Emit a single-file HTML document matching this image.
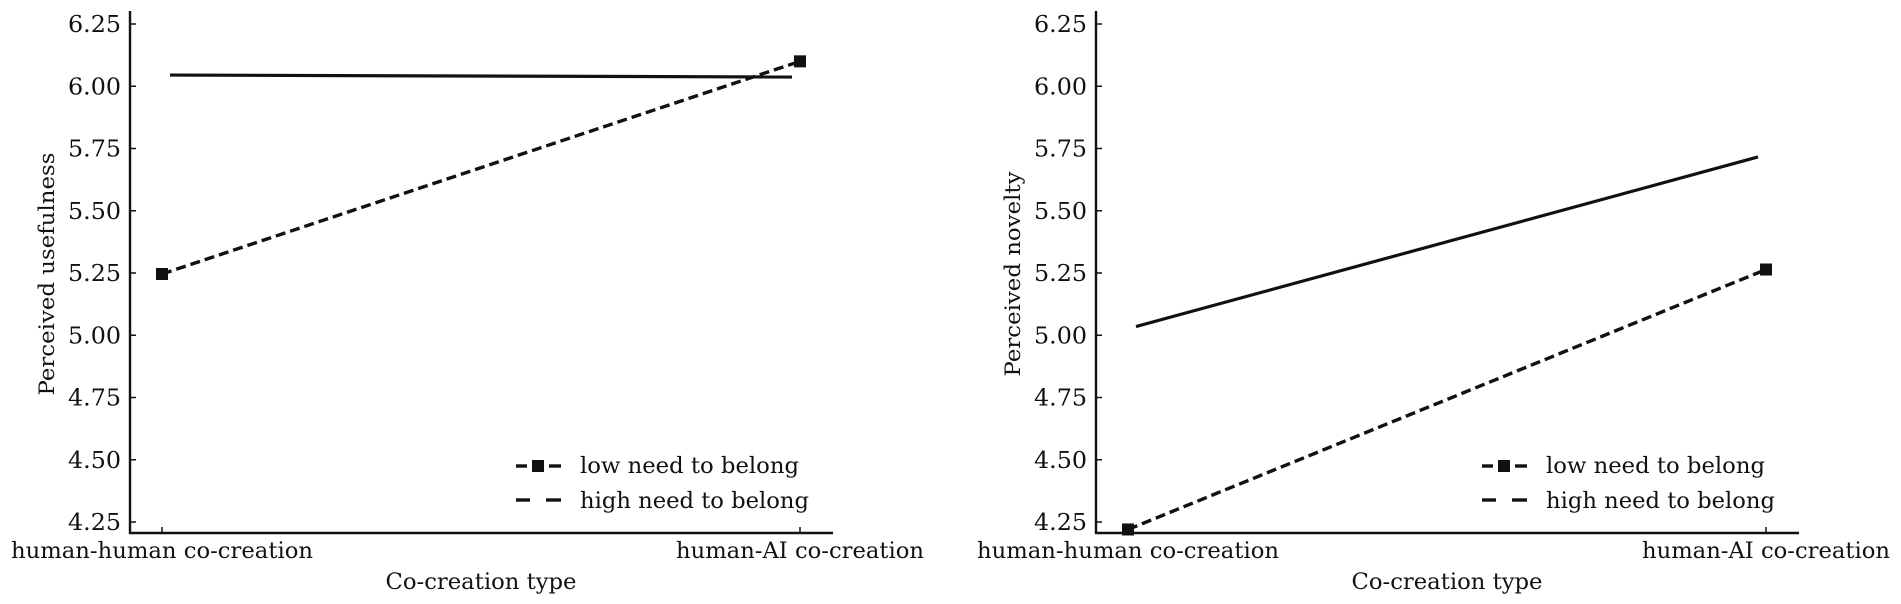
<!DOCTYPE html>
<html><head><meta charset="utf-8"><style>
html,body{margin:0;padding:0;background:#fff;}
svg{display:block;}
text{font-family:"DejaVu Serif","Liberation Serif",serif;fill:#111;}
</style></head><body>
<svg id="chart" width="1901" height="604" viewBox="0 0 1901 604" xmlns="http://www.w3.org/2000/svg"></svg>
<script>
const categories = ["human-human co-creation", "human-AI co-creation"];
const yTicks = [4.25, 4.50, 4.75, 5.00, 5.25, 5.50, 5.75, 6.00, 6.25];
const yTickLabels = ["4.25","4.50","4.75","5.00","5.25","5.50","5.75","6.00","6.25"];
const usefulnessHigh = [6.045, 6.037];
const usefulnessLow = [5.246, 6.10];
const noveltyHigh = [5.035, 5.716];
const noveltyLow = [4.22, 5.264];
const legendLabels = ["low need to belong", "high need to belong"];

const NS = "http://www.w3.org/2000/svg";
const svg = document.getElementById('chart');
function mk(tag, attrs, parent) {
  const e = document.createElementNS(NS, tag);
  for (const k in attrs) e.setAttribute(k, attrs[k]);
  (parent || svg).appendChild(e);
  return e;
}

function panel(ox, yTitle, high, low, key) {
  const g = mk('g', {});
  
  
  const axisX = ox, axisY = 533, top = 11;
  const xs = i => ox + 32 + i * 638;
  const ys = v => 522 - (v - 4.25) * 249;
  const ya = mk('line', {x1: axisX, y1: top, x2: axisX, y2: axisY + 1, stroke: '#111', 'stroke-width': 2.4}, g);
  
  
  const xa = mk('line', {x1: axisX - 1, y1: axisY, x2: ox + 703, y2: axisY, stroke: '#111', 'stroke-width': 2.4}, g);
  
  
  yTicks.forEach((v, i) => {
    mk('line', {x1: axisX, y1: ys(v), x2: axisX + 6, y2: ys(v), stroke: '#111', 'stroke-width': 1.5}, g);
    const t = mk('text', {x: axisX - 9, y: ys(v) + 8, 'text-anchor': 'end', 'font-size': 23, textLength: 53, lengthAdjust: 'spacingAndGlyphs'}, g);
    t.textContent = yTickLabels[i];
    
    
  });
  categories.forEach((c, i) => {
    mk('line', {x1: xs(i), y1: axisY, x2: xs(i), y2: axisY - 6, stroke: '#111', 'stroke-width': 1.5}, g);
    const t = mk('text', {x: xs(i), y: 558, 'text-anchor': 'middle', 'font-size': 22, textLength: i === 0 ? 302 : 248, lengthAdjust: 'spacingAndGlyphs'}, g);
    t.textContent = c;
    
    
  });
  const xt = mk('text', {x: ox + 351, y: 589, 'text-anchor': 'middle', 'font-size': 22, textLength: 191, lengthAdjust: 'spacingAndGlyphs'}, g);
  xt.textContent = 'Co-creation type';
  
  
  const ycx = ox - 83, ycy = 274;
  const yt = mk('text', {x: ycx, y: ycy + 7, 'text-anchor': 'middle', 'font-size': 21, transform: `rotate(-90 ${ycx} ${ycy})`, textLength: key === 'usefulness' ? 243 : 205, lengthAdjust: 'spacingAndGlyphs'}, g);
  yt.textContent = yTitle;
  
  
  const dodge = 8;
  const hl = mk('line', {x1: xs(0) + dodge, y1: ys(high[0]), x2: xs(1) - dodge, y2: ys(high[1]), stroke: '#111', 'stroke-width': 3.2}, g);
  
  
  const ll = mk('line', {x1: xs(0), y1: ys(low[0]), x2: xs(1), y2: ys(low[1]), stroke: '#111', 'stroke-width': 3.4, 'stroke-dasharray': '10 5'}, g);
  
  
  low.forEach((v, i) => {
    const m = mk('rect', {x: xs(i) - 6, y: ys(v) - 6, width: 12, height: 12, fill: '#111'}, g);
    
    
  });
  const lx = ox + 386;
  const lg = mk('g', {}, g);
  
  
  mk('line', {x1: lx, y1: 466, x2: lx + 11, y2: 466, stroke: '#111', 'stroke-width': 3.4}, lg);
  mk('rect', {x: lx + 16, y: 460, width: 12, height: 12, fill: '#111'}, lg);
  mk('line', {x1: lx + 33, y1: 466, x2: lx + 45, y2: 466, stroke: '#111', 'stroke-width': 3.4}, lg);
  mk('line', {x1: lx, y1: 500, x2: lx + 14, y2: 500, stroke: '#111', 'stroke-width': 3.4}, lg);
  mk('line', {x1: lx + 30, y1: 500, x2: lx + 45, y2: 500, stroke: '#111', 'stroke-width': 3.4}, lg);
  legendLabels.forEach((s, i) => {
    const t = mk('text', {x: lx + 64, y: 473 + i * 35, 'font-size': 22, textLength: i === 0 ? 219 : 229, lengthAdjust: 'spacingAndGlyphs'}, lg);
    t.textContent = s;
    
    
  });
}
panel(130, 'Perceived usefulness', usefulnessHigh, usefulnessLow, 'usefulness');
panel(1096, 'Perceived novelty', noveltyHigh, noveltyLow, 'novelty');
</script>
</body></html>
